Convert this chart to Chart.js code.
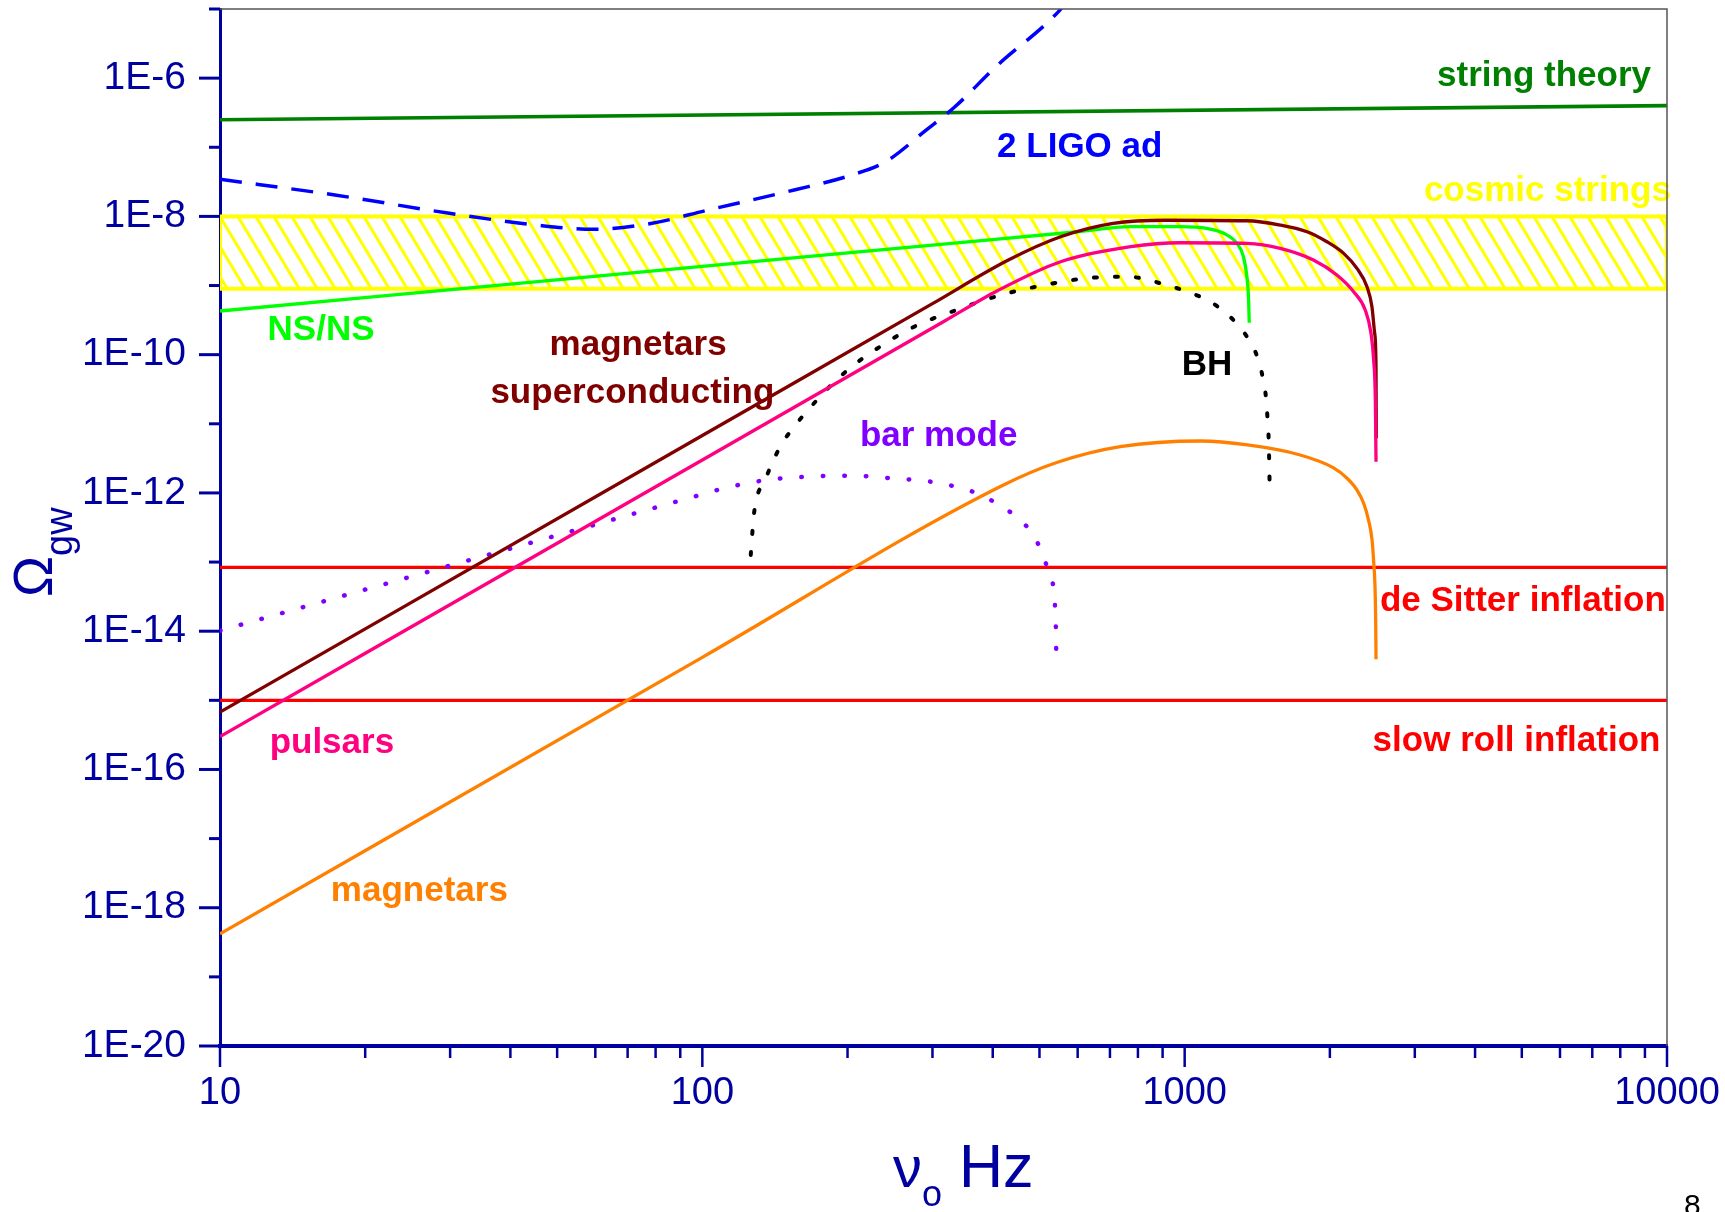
<!DOCTYPE html>
<html>
<head>
<meta charset="utf-8">
<title>Omega gw</title>
<script src="https://cdn.jsdelivr.net/npm/chart.js@4.4.0/dist/chart.umd.min.js"></script>
<style>
  html, body { margin: 0; padding: 0; background: #fff; }
</style>
</head>
<body>
<canvas id="omegaChart" width="1725" height="1212"></canvas>
<script>
// tick positions and labels
var freqTicks = [10, 20, 30, 40, 50, 60, 70, 80, 90, 100, 200, 300, 400, 500, 600, 700, 800, 900,
                 1000, 2000, 3000, 4000, 5000, 6000, 7000, 8000, 9000, 10000];
var freqMajor = [10, 100, 1000, 10000];
var freqLabels = ['10', '100', '1000', '10000'];
var omegaTicks = [1e-20, 1e-19, 1e-18, 1e-17, 1e-16, 1e-15, 1e-14, 1e-13, 1e-12, 1e-11, 1e-10, 1e-9, 1e-8, 1e-7, 1e-6, 1e-5];
var omegaMajor = [1e-20, 1e-18, 1e-16, 1e-14, 1e-12, 1e-10, 1e-8, 1e-6];
var omegaLabels = ['1E-20', '1E-18', '1E-16', '1E-14', '1E-12', '1E-10', '1E-8', '1E-6'];

// series (frequency in Hz, Omega_gw)
var stringFreq = [10, 10000];
var stringOmega = [2.5e-7, 4.0e-7];

var ligoFreq = [10, 17.3, 29.9, 45.2, 59.4, 78.2, 103, 155, 204, 240, 291, 334, 406, 547, 580];
var ligoOmega = [3.44e-8, 2.04e-8, 1.11e-8, 7.5e-9, 6.5e-9, 7.9e-9, 1.24e-8, 2.41e-8, 3.97e-8, 6.2e-8, 1.77e-7, 3.85e-7, 1.46e-6, 9.1e-6, 1.5e-5];

var cosmicFreq = [10, 10000, 10000, 10, 10];
var cosmicOmega = [1e-8, 1e-8, 9e-10, 9e-10, 1e-8];

var nsnsFreq = [10, 100, 300, 600, 773, 980, 1112, 1205, 1283, 1324, 1346, 1357, 1361];
var nsnsOmega = [4.28e-10, 1.89e-9, 3.85e-9, 6.0e-9, 7.1e-9, 7.1e-9, 6.7e-9, 5.7e-9, 4.07e-9, 2.61e-9, 1.34e-9, 6.2e-10, 2.9e-10];

var superFreq = [10, 100, 300, 431, 553, 711, 914, 1346, 1578, 1793, 1972, 2136, 2276, 2388, 2445, 2477, 2493, 2496];
var superOmega = [6.76e-16, 6.76e-12, 5.47e-10, 2.34e-9, 5.08e-9, 7.94e-9, 8.8e-9, 8.65e-9, 7.5e-9, 6.0e-9, 4.3e-9, 2.92e-9, 1.77e-9, 9.6e-10, 4.94e-10, 2.04e-10, 6.7e-11, 6.17e-12];

var pulsarFreq = [10, 100, 316, 409, 553, 773, 979, 1346, 1578, 1849, 2068, 2240, 2368, 2434, 2465, 2485, 2493];
var pulsarOmega = [2.99e-16, 2.99e-12, 2.99e-10, 8.4e-10, 2.21e-9, 3.65e-9, 4.16e-9, 4.07e-9, 3.45e-9, 2.34e-9, 1.42e-9, 8.15e-10, 4.43e-10, 2.04e-10, 8.4e-11, 2.21e-11, 2.83e-12];

var magnetarFreq = [10, 100, 417, 543, 735, 1081, 1350, 1720, 2036, 2171, 2277, 2350, 2405, 2446, 2464, 2481, 2489, 2493];
var magnetarOmega = [4.19e-19, 4.19e-15, 1.26e-12, 2.75e-12, 4.67e-12, 5.64e-12, 4.95e-12, 3.6e-12, 2.3e-12, 1.63e-12, 1.10e-12, 7.08e-13, 4.06e-13, 2.09e-13, 1.07e-13, 4.4e-14, 1.45e-14, 3.93e-15];

var barFreq = [10, 30, 60, 100, 111, 136, 166, 203, 247, 302, 371, 407, 451, 490, 525, 540, 542];
var barOmega = [1.02e-14, 8.9e-14, 3.49e-13, 9.55e-13, 1.17e-12, 1.54e-12, 1.72e-12, 1.78e-12, 1.63e-12, 1.43e-12, 9.9e-13, 7.08e-13, 4.3e-13, 2.21e-13, 6.5e-14, 1.62e-14, 3.84e-15];

var bhFreq = [126, 128, 135, 145, 155, 168, 185, 204, 228, 275, 344, 416, 500, 622, 760, 931, 1035, 1130, 1242, 1346, 1416, 1453, 1476, 1486, 1494, 1500];
var bhOmega = [1.27e-13, 5.07e-13, 1.54e-12, 4.67e-12, 9.08e-12, 1.77e-11, 3.64e-11, 6.7e-11, 1.17e-10, 2.54e-10, 4.68e-10, 7.3e-10, 9.84e-10, 1.27e-9, 1.34e-9, 9.84e-10, 7.7e-10, 5.83e-10, 3.54e-10, 1.82e-10, 9.1e-11, 4.55e-11, 2.21e-11, 1.11e-11, 5.5e-12, 1.38e-12];

var sitterFreq = [10, 10000];
var sitterOmega = [8.4e-14, 8.4e-14];
var slowFreq = [10, 10000];
var slowOmega = [1e-15, 1e-15];

// curve labels, anchored in data coordinates
var noteText = ['string theory', '2 LIGO ad', 'cosmic strings', 'NS/NS', 'magnetars', 'superconducting',
                'bar mode', 'BH', 'pulsars', 'magnetars', 'de Sitter inflation', 'slow roll inflation'];
var noteFreq = [5560, 606, 5650, 16.2, 73.6, 71.6, 309, 1113, 17.06, 25.9, 5025, 4875];
var noteOmega = [1.05e-6, 1.0e-7, 2.28e-8, 2.28e-10, 1.38e-10, 2.76e-11, 6.5e-12, 7.08e-11, 2.39e-16, 1.71e-18, 2.67e-14, 2.52e-16];
var noteColor = ['#008000', '#0000ff', '#ffff00', '#00ff00', '#800000', '#800000',
                 '#8000ff', '#000000', '#ff0080', '#ff8000', '#ff0000', '#ff0000'];

var NAVY = '#0000a0';
var FONT = '"Liberation Sans", Arial, sans-serif';

function pts(xs, ys) {
    return xs.map(function(x, i) { return {x: x, y: ys[i]}; });
}

function hatch() {
    var c = document.createElement('canvas');
    c.width = 18; c.height = 30;
    var g = c.getContext('2d');
    g.strokeStyle = '#ffff00';
    g.lineWidth = 3;
    g.beginPath();
    g.moveTo(-3, -5); g.lineTo(21, 35);
    g.moveTo(-21, -35); g.lineTo(3, 5);
    g.moveTo(15, -5); g.lineTo(39, 35);
    g.moveTo(-3, 25); g.lineTo(3, 35);
    g.moveTo(15, -5); g.lineTo(21, 5);
    g.stroke();
    return g.createPattern(c, 'repeat');
}

function sameValue(a, b) {
    return Math.abs(Math.log10(a) - Math.log10(b)) < 1e-6;
}

var decorPlugin = {
    id: 'decor',
    afterDraw: function(chart) {
        var ctx = chart.ctx, a = chart.chartArea;
        var xs = chart.scales.x, ys = chart.scales.y;
        ctx.save();

        // thin frame on top and right
        ctx.strokeStyle = '#555';
        ctx.lineWidth = 1.5;
        ctx.beginPath();
        ctx.moveTo(a.left, a.top);
        ctx.lineTo(a.right, a.top);
        ctx.lineTo(a.right, a.bottom);
        ctx.stroke();

        // tick marks, long on labelled values
        ctx.strokeStyle = NAVY;
        ctx.lineWidth = 3;
        omegaTicks.forEach(function(v) {
            var py = ys.getPixelForValue(v);
            var major = omegaMajor.some(function(m) { return sameValue(m, v); });
            ctx.beginPath();
            ctx.moveTo(a.left - (major ? 21 : 11), py);
            ctx.lineTo(a.left, py);
            ctx.stroke();
        });
        ctx.lineWidth = 2.5;
        freqTicks.forEach(function(v) {
            var px = xs.getPixelForValue(v);
            var major = freqMajor.some(function(m) { return sameValue(m, v); });
            ctx.beginPath();
            ctx.moveTo(px, a.bottom);
            ctx.lineTo(px, a.bottom + (major ? 21 : 12));
            ctx.stroke();
        });

        // axis titles
        ctx.fillStyle = NAVY;
        ctx.textBaseline = 'alphabetic';
        ctx.textAlign = 'left';
        ctx.save();
        ctx.translate(52, 597);
        ctx.rotate(-Math.PI / 2);
        ctx.font = '55px ' + FONT;
        ctx.fillText('\u03A9', 0, 0);
        var w = ctx.measureText('\u03A9').width;
        ctx.font = '38px ' + FONT;
        ctx.fillText('gw', w, 20);
        ctx.restore();

        ctx.font = '58px ' + FONT;
        ctx.fillText('\u03BD', 893, 1187);
        ctx.font = '36px ' + FONT;
        ctx.fillText('o', 922, 1206);
        ctx.font = '61px ' + FONT;
        ctx.fillText('Hz', 959, 1187);

        // page number
        ctx.fillStyle = '#000';
        ctx.font = '30px ' + FONT;
        ctx.fillText('8', 1684, 1215);
        ctx.restore();
    },
    afterDatasetsDraw: function(chart) {
        var ctx = chart.ctx;
        var xs = chart.scales.x, ys = chart.scales.y;
        ctx.save();
        ctx.font = 'bold 35px ' + FONT;
        ctx.textAlign = 'center';
        ctx.textBaseline = 'middle';
        noteText.forEach(function(t, i) {
            ctx.fillStyle = noteColor[i];
            ctx.fillText(t, xs.getPixelForValue(noteFreq[i]), ys.getPixelForValue(noteOmega[i]));
        });
        ctx.restore();
    }
};

function curve(data, color, extra) {
    var ds = {
        data: data,
        borderColor: color,
        borderWidth: 3.3,
        pointRadius: 0,
        fill: false,
        cubicInterpolationMode: 'monotone'
    };
    for (var k in extra) ds[k] = extra[k];
    return ds;
}

var ctx = document.getElementById('omegaChart').getContext('2d');

var omegaChart = new Chart(ctx, {
    type: 'line',
    data: {
        datasets: [
            curve(pts(pulsarFreq, pulsarOmega), '#ff0080', {order: 1}),
            curve(pts(superFreq, superOmega), '#800000', {order: 2}),
            curve(pts(nsnsFreq, nsnsOmega), '#00ff00', {order: 3}),
            curve(pts(magnetarFreq, magnetarOmega), '#ff8000', {order: 4}),
            curve(pts(barFreq, barOmega), '#8000ff', {order: 5, borderWidth: 4.5, borderDash: [0.5, 21], borderCapStyle: 'round'}),
            curve(pts(bhFreq, bhOmega), '#000000', {order: 6, borderWidth: 4, borderDash: [3, 18], borderCapStyle: 'round'}),
            curve(pts(ligoFreq, ligoOmega), '#0000ff', {order: 7, borderWidth: 3.5, borderDash: [22, 14]}),
            curve(pts(stringFreq, stringOmega), '#008000', {order: 8, borderWidth: 3.6}),
            curve(pts(sitterFreq, sitterOmega), '#ff0000', {order: 9}),
            curve(pts(slowFreq, slowOmega), '#ff0000', {order: 10}),
            curve(pts(cosmicFreq, cosmicOmega), '#ffff00', {
                order: 11, borderWidth: 4, tension: 0, cubicInterpolationMode: 'default',
                fill: 'shape', backgroundColor: hatch(), borderJoinStyle: 'miter'
            })
        ]
    },
    options: {
        responsive: false,
        animation: false,
        events: [],
        layout: { padding: { top: 9, right: 58, bottom: 0, left: 0 } },
        plugins: {
            legend: { display: false },
            tooltip: { enabled: false }
        },
        scales: {
            x: {
                type: 'logarithmic',
                min: 10,
                max: 10000,
                // only the labelled values go to the scale; the minor marks are drawn by the plugin
                afterBuildTicks: function(s) { s.ticks = freqMajor.map(function(v) { return {value: v}; }); },
                afterFit: function(s) { s.height = 166; },
                grid: { display: true, drawOnChartArea: false, drawTicks: true, tickLength: 25, tickColor: 'rgba(0,0,0,0)' },
                border: { display: true, color: NAVY, width: 4 },
                ticks: {
                    autoSkip: false,
                    maxRotation: 0,
                    padding: 0,
                    color: NAVY,
                    font: { family: FONT, size: 38 },
                    callback: function(v) {
                        var i = freqMajor.findIndex(function(m) { return sameValue(m, v); });
                        return i >= 0 ? freqLabels[i] : '';
                    }
                }
            },
            y: {
                type: 'logarithmic',
                min: 1e-20,
                max: 1e-5,
                afterBuildTicks: function(s) { s.ticks = omegaMajor.map(function(v) { return {value: v}; }); },
                afterFit: function(s) { s.width = 220; },
                grid: { display: true, drawOnChartArea: false, drawTicks: true, tickLength: 34, tickColor: 'rgba(0,0,0,0)' },
                border: { display: true, color: NAVY, width: 3 },
                ticks: {
                    autoSkip: false,
                    padding: 0,
                    color: NAVY,
                    font: { family: FONT, size: 39, lineHeight: 0.4 },
                    callback: function(v) {
                        var i = omegaMajor.findIndex(function(m) { return sameValue(m, v); });
                        return i >= 0 ? omegaLabels[i] : '';
                    }
                }
            }
        }
    },
    plugins: [decorPlugin]
});
</script>
</body>
</html>
